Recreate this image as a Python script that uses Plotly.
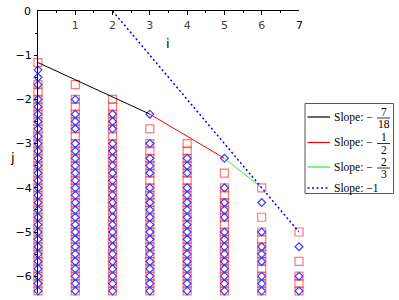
import plotly.graph_objects as go

# ---- data (j values given in sixths: j = -k/6) ----
sq_col0 = [7, 10, 11, 12, 13, 14, 15, 16, 17, 18, 19, 20, 21, 22, 23, 24, 25, 26, 27, 28, 29, 30, 31, 32, 33, 34, 35, 36, 37, 38]
sq_col1 = [10, 12, 13, 14, 15, 16, 17, 18, 19, 20, 21, 22, 23, 24, 25, 26, 27, 28, 29, 30, 31, 32, 33, 34, 35, 36, 37, 38]
sq_col2 = [12, 13, 14, 15, 16, 17, 18, 19, 20, 21, 22, 23, 24, 25, 26, 27, 28, 29, 30, 31, 32, 33, 34, 35, 36, 37, 38]
sq_col3 = [16, 18, 19, 20, 21, 22, 23, 24, 25, 26, 27, 28, 29, 30, 31, 32, 33, 34, 35, 36, 37, 38]
sq_col4 = [18, 19, 20, 21, 22, 23, 24, 25, 26, 27, 28, 29, 30, 31, 32, 33, 34, 35, 36, 37, 38]
sq_col5 = [22, 24, 25, 26, 27, 28, 29, 30, 31, 32, 33, 34, 35, 36, 37, 38]
sq_col6 = [24, 28, 30, 31, 32, 33, 34, 35, 36, 37, 38]
sq_col7 = [30, 34, 36, 37, 38]

dm_col0 = [8, 9, 10, 12, 13, 14, 15, 16, 17, 18, 19, 20, 21, 22, 23, 24, 25, 26, 27, 28, 29, 30, 31, 32, 33, 34, 35, 36, 37, 38]
dm_col1 = [12, 14, 15, 16, 18, 19, 20, 21, 22, 23, 24, 25, 26, 27, 28, 29, 30, 31, 32, 33, 34, 35, 36, 37, 38]
dm_col2 = [14, 15, 16, 18, 19, 20, 21, 22, 23, 24, 25, 26, 27, 28, 29, 30, 31, 32, 33, 34, 35, 36, 37, 38]
dm_col3 = [14, 18, 20, 21, 22, 24, 25, 26, 27, 28, 29, 30, 31, 32, 33, 34, 35, 36, 37, 38]
dm_col4 = [20, 21, 22, 24, 25, 26, 27, 28, 29, 30, 31, 32, 33, 34, 35, 36, 37, 38]
dm_col5 = [20, 24, 26, 27, 28, 30, 31, 32, 33, 34, 35, 36, 37, 38]
dm_col6 = [26, 30, 32, 33, 34, 36, 37, 38]
dm_col7 = [32, 36, 38]

square_cols = [sq_col0, sq_col1, sq_col2, sq_col3, sq_col4, sq_col5, sq_col6, sq_col7]
diamond_cols = [dm_col0, dm_col1, dm_col2, dm_col3, dm_col4, dm_col5, dm_col6, dm_col7]

black_i = [0, 3]
black_j = [-7/6, -7/3]
red_i = [3, 5]
red_j = [-7/3, -10/3]
green_i = [5, 6]
green_j = [-10/3, -4]
blue_i = [2, 7]
blue_j = [0, -5]

legend_nums = ["7", "1", "2", None]
legend_dens = ["18", "2", "3", None]
legend_colors = ["black", "#ff0000", "#33ee33", "#0000ff"]
legend_dash = ["solid", "solid", "solid", "2px,2.5px"]

x_ticks = [1, 2, 3, 4, 5, 6]
x_edge_tick = 7
y_ticks = [-1, -2, -3, -4, -5, -6]
y_edge_tick = 0

# ---- build ----
sx, sy, dx, dy = [], [], [], []
for i, ks in enumerate(square_cols):
    for k in ks:
        sx.append(i); sy.append(-k / 6)
for i, ks in enumerate(diamond_cols):
    for k in ks:
        dx.append(i); dy.append(-k / 6)

fig = go.Figure()
fig.add_trace(go.Scatter(x=sx, y=sy, mode="markers", cliponaxis=False,
                         marker=dict(symbol="square-open", size=8, color="rgba(255,60,60,0.7)",
                                     line=dict(width=1.2))))
fig.add_trace(go.Scatter(x=dx, y=dy, mode="markers", cliponaxis=False,
                         marker=dict(symbol="diamond-open", size=6, color="#3838ff",
                                     line=dict(width=1.2))))
fig.add_trace(go.Scatter(x=black_i, y=black_j, mode="lines", line=dict(color="black", width=1)))
fig.add_trace(go.Scatter(x=red_i, y=red_j, mode="lines", line=dict(color="#ff0000", width=1)))
fig.add_trace(go.Scatter(x=green_i, y=green_j, mode="lines", line=dict(color="#33ee33", width=1)))
fig.add_trace(go.Scatter(x=blue_i, y=blue_j, mode="lines", line=dict(color="#0000ff", width=1.5, dash="2px,2.5px")))

L, R, T, B = 38, 100, 11, 7
W, H = 399, 300
pw, ph = W - L - R, H - T - B


def xp(px):
    return (px - L) / pw


def yp(py):
    return (H - B - py) / ph


shapes = []
annotations = []
# custom legend box
shapes.append(dict(type="rect", xref="paper", yref="paper", x0=xp(305), x1=xp(393.5),
                   y0=yp(193.5), y1=yp(103.5), line=dict(color="#555555", width=1)))
rows_y = [117, 142.5, 167, 188]
serif = "Liberation Serif"
for r, ry in enumerate(rows_y):
    shapes.append(dict(type="line", xref="paper", yref="paper", x0=xp(307.5), x1=xp(330),
                       y0=yp(ry), y1=yp(ry),
                       line=dict(color=legend_colors[r], width=1.5 if r == 3 else 1.2,
                                 dash=legend_dash[r])))
    if legend_nums[r] is None:
        annotations.append(dict(xref="paper", yref="paper", x=xp(332), y=yp(ry), xanchor="left",
                                yanchor="middle", showarrow=False, text="Slope: \u22121",
                                font=dict(family=serif, size=11.5, color="black")))
    else:
        annotations.append(dict(xref="paper", yref="paper", x=xp(332), y=yp(ry), xanchor="left",
                                yanchor="middle", showarrow=False, text="Slope: \u2212",
                                font=dict(family=serif, size=11.5, color="black")))
        annotations.append(dict(xref="paper", yref="paper", x=xp(383.5), y=yp(ry - 5.5), xanchor="center",
                                yanchor="middle", showarrow=False, text=legend_nums[r],
                                font=dict(family=serif, size=11.5, color="black")))
        annotations.append(dict(xref="paper", yref="paper", x=xp(383.5), y=yp(ry + 7), xanchor="center",
                                yanchor="middle", showarrow=False, text=legend_dens[r],
                                font=dict(family=serif, size=11.5, color="black")))
        shapes.append(dict(type="line", xref="paper", yref="paper", x0=xp(377), x1=xp(390),
                           y0=yp(ry + 1), y1=yp(ry + 1), line=dict(color="black", width=0.8)))

annotations.append(dict(xref="paper", yref="paper", x=xp(168), y=yp(43), xanchor="center", yanchor="middle",
                        showarrow=False, text="i", font=dict(family="DejaVu Sans", size=13, color="black")))
annotations.append(dict(xref="paper", yref="paper", x=xp(12), y=yp(158), xanchor="center", yanchor="middle",
                        showarrow=False, text="j", font=dict(family="DejaVu Sans", size=13, color="black")))
# edge tick labels that plotly would hide
annotations.append(dict(xref="x", yref="paper", x=x_edge_tick, y=yp(25.5), xanchor="center", yanchor="middle",
                        showarrow=False, text=str(x_edge_tick), font=dict(family="DejaVu Sans", size=11, color="black")))
annotations.append(dict(xref="paper", yref="y", x=xp(33), y=y_edge_tick, xanchor="right", yanchor="middle",
                        showarrow=False, text=str(y_edge_tick), font=dict(family="DejaVu Sans", size=11, color="black")))

fig.update_layout(
    width=W, height=H, margin=dict(l=L, r=R, t=T, b=B, autoexpand=False), showlegend=False,
    plot_bgcolor="white", paper_bgcolor="white",
    font=dict(family="DejaVu Sans", size=11, color="black"),
    shapes=shapes, annotations=annotations,
    xaxis=dict(range=[0, 7], side="top", showline=True, linecolor="black", linewidth=1, automargin=False,
               showgrid=False, zeroline=False, tickvals=x_ticks + [x_edge_tick], ticks="inside", ticklen=4,
               tickcolor="black", ticklabelposition="inside", ticklabelstandoff=6, tickfont=dict(size=11),
               minor=dict(dtick=0.5, ticks="inside", ticklen=2, tickcolor="black")),
    yaxis=dict(range=[-6.38, 0], showline=True, linecolor="black", linewidth=1, automargin=False,
               showgrid=False, zeroline=False, tickvals=y_ticks + [y_edge_tick], ticks="outside", ticklen=3,
               tickcolor="black", tickfont=dict(size=11),
               minor=dict(dtick=0.5, ticks="outside", ticklen=2, tickcolor="black")),
)

fig.write_html("out.html", config={"displayModeBar": False},
               post_script="document.body.style.margin='0';")
